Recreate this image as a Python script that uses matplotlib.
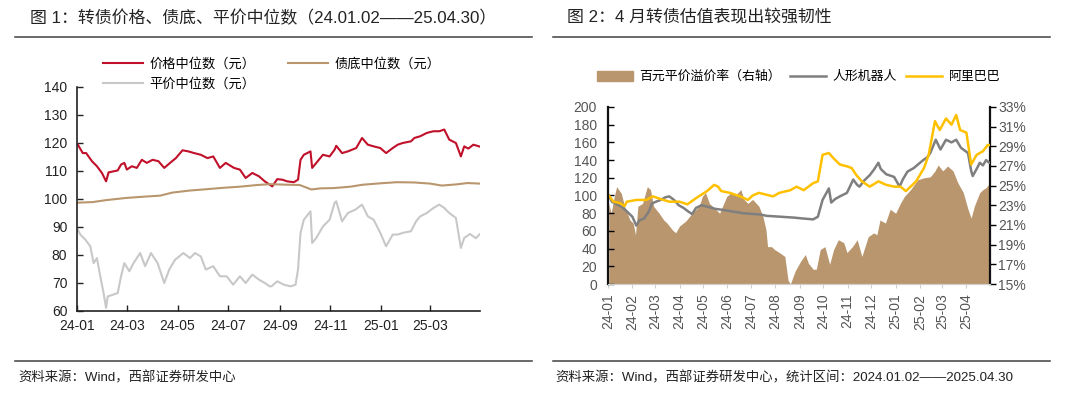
import matplotlib
matplotlib.use("Agg")
import matplotlib.pyplot as plt
import matplotlib.dates as mdates
from matplotlib.lines import Line2D
from matplotlib.patches import Patch
from matplotlib.ticker import PercentFormatter, MultipleLocator
import pandas as pd

plt.rcParams["font.family"] = ["Liberation Sans", "Noto Sans CJK SC"]

# ---- 图1: 转债价格 / 债底 / 平价中位数 ----
price_dates = ["2024-01-02", "2024-01-08", "2024-01-12", "2024-01-19", "2024-01-25", "2024-01-31",
               "2024-02-05", "2024-02-08", "2024-02-19", "2024-02-23", "2024-02-27", "2024-03-01",
               "2024-03-07", "2024-03-13", "2024-03-19", "2024-03-25", "2024-04-01", "2024-04-08",
               "2024-04-15", "2024-04-22", "2024-04-29", "2024-05-07", "2024-05-14", "2024-05-21",
               "2024-05-29", "2024-06-06", "2024-06-13", "2024-06-21", "2024-06-28", "2024-07-08",
               "2024-07-15", "2024-07-22", "2024-07-30", "2024-08-07", "2024-08-14", "2024-08-20",
               "2024-08-23", "2024-08-29", "2024-09-04", "2024-09-10", "2024-09-18", "2024-09-23",
               "2024-09-26", "2024-09-30", "2024-10-08", "2024-10-10", "2024-10-15", "2024-10-23",
               "2024-10-31", "2024-11-06", "2024-11-08", "2024-11-15", "2024-11-22", "2024-12-02",
               "2024-12-09", "2024-12-16", "2024-12-23", "2024-12-31", "2025-01-07", "2025-01-15",
               "2025-01-21", "2025-01-27", "2025-02-06", "2025-02-10", "2025-02-17", "2025-02-25",
               "2025-03-05", "2025-03-12", "2025-03-18", "2025-03-24", "2025-04-01", "2025-04-07",
               "2025-04-11", "2025-04-16", "2025-04-22", "2025-04-30"]
price_med = [119.4, 116.4, 116.4, 113.5, 111.7, 109.3, 106.3, 109.5, 110.2, 112.3, 112.9, 110.5,
             111.7, 111.1, 114.0, 112.9, 114.0, 113.5, 111.1, 112.9, 114.6, 117.4, 117.0, 116.4,
             115.8, 114.6, 115.2, 111.1, 112.9, 111.1, 110.5, 107.5, 109.3, 108.1, 106.3, 105.1,
             104.5, 107.1, 106.9, 106.3, 106.0, 106.9, 114.0, 115.8, 117.0, 111.1, 112.9, 115.8,
             115.2, 117.6, 119.0, 116.4, 117.0, 118.2, 121.8, 119.4, 118.8, 118.2, 116.4, 118.2,
             119.4, 120.0, 120.6, 121.8, 122.4, 123.6, 124.2, 124.2, 124.8, 121.2, 120.0, 115.2,
             118.8, 118.0, 119.4, 118.7]

floor_dates = ["2024-01-02", "2024-01-20", "2024-02-05", "2024-03-01", "2024-03-20", "2024-04-10",
               "2024-04-25", "2024-05-15", "2024-06-05", "2024-06-25", "2024-07-15", "2024-08-05",
               "2024-08-20", "2024-09-10", "2024-09-25", "2024-10-09", "2024-10-20", "2024-11-05",
               "2024-11-25", "2024-12-10", "2024-12-31", "2025-01-20", "2025-02-10", "2025-03-01",
               "2025-03-15", "2025-04-01", "2025-04-15", "2025-04-30"]
floor_med = [98.7, 98.9, 99.6, 100.4, 100.8, 101.2, 102.3, 103.0, 103.5, 104.0, 104.4, 105.0,
             105.3, 105.1, 105.0, 103.4, 103.8, 103.9, 104.4, 105.1, 105.6, 106.0, 105.9, 105.5,
             104.8, 105.2, 105.7, 105.5]

parity_dates = ["2024-01-02", "2024-01-05", "2024-01-11", "2024-01-17", "2024-01-21", "2024-01-25",
                "2024-01-29", "2024-02-02", "2024-02-05", "2024-02-07", "2024-02-19", "2024-02-23",
                "2024-02-27", "2024-03-04", "2024-03-09", "2024-03-17", "2024-03-23", "2024-03-30",
                "2024-04-07", "2024-04-15", "2024-04-21", "2024-04-28", "2024-05-08", "2024-05-16",
                "2024-05-22", "2024-05-29", "2024-06-04", "2024-06-13", "2024-06-21", "2024-06-29",
                "2024-07-07", "2024-07-15", "2024-07-22", "2024-07-30", "2024-08-07", "2024-08-14",
                "2024-08-20", "2024-08-22", "2024-08-29", "2024-09-06", "2024-09-14", "2024-09-20",
                "2024-09-23", "2024-09-26", "2024-09-30", "2024-10-08", "2024-10-10", "2024-10-15",
                "2024-10-23", "2024-10-31", "2024-11-06", "2024-11-08", "2024-11-15", "2024-11-22",
                "2024-12-01", "2024-12-09", "2024-12-16", "2024-12-23", "2024-12-31", "2025-01-07",
                "2025-01-15", "2025-01-21", "2025-01-27", "2025-02-06", "2025-02-12", "2025-02-17",
                "2025-02-25", "2025-03-05", "2025-03-12", "2025-03-18", "2025-03-24", "2025-04-01",
                "2025-04-07", "2025-04-11", "2025-04-18", "2025-04-25", "2025-04-30"]
parity_med = [89.0, 87.3, 85.5, 83.1, 77.1, 78.9, 72.4, 66.4, 61.1, 65.2, 66.4, 72.4,
              77.1, 74.2, 77.1, 80.7, 76.0, 80.7, 77.1, 70.0, 74.8, 78.3, 80.7, 78.9,
              80.7, 79.5, 74.8, 76.0, 72.4, 72.4, 69.4, 72.4, 70.0, 73.0, 71.2, 70.0,
              68.8, 68.8, 70.6, 69.4, 68.8, 69.4, 74.8, 87.9, 92.6, 95.6, 84.3, 86.1,
              90.2, 92.6, 98.6, 99.2, 92.0, 95.0, 96.2, 98.0, 93.8, 92.6, 87.9, 83.1,
              87.3, 87.3, 87.9, 88.5, 92.0, 93.8, 95.0, 96.8, 98.0, 96.8, 95.0, 93.2,
              82.5, 86.1, 87.5, 86.0, 87.5]

# ---- 图2: 溢价率 / 人形机器人 / 阿里巴巴 ----
prem_dates = ["2024-01-02", "2024-01-05", "2024-01-09", "2024-01-12", "2024-01-18", "2024-01-22",
              "2024-01-29", "2024-02-02", "2024-02-05", "2024-02-08", "2024-02-14", "2024-02-20",
              "2024-02-24", "2024-02-28", "2024-03-06", "2024-03-12", "2024-03-16", "2024-03-23",
              "2024-03-27", "2024-04-01", "2024-04-09", "2024-04-17", "2024-04-26", "2024-04-30",
              "2024-05-04", "2024-05-09", "2024-05-13", "2024-05-22", "2024-05-31", "2024-06-06",
              "2024-06-12", "2024-06-18", "2024-06-22", "2024-06-27", "2024-07-03", "2024-07-11",
              "2024-07-16", "2024-07-20", "2024-07-22", "2024-07-27", "2024-07-31", "2024-08-06",
              "2024-08-13", "2024-08-17", "2024-08-20", "2024-08-26", "2024-09-02", "2024-09-08",
              "2024-09-12", "2024-09-18", "2024-09-22", "2024-09-27", "2024-10-03", "2024-10-09",
              "2024-10-14", "2024-10-20", "2024-10-27", "2024-10-31", "2024-11-07", "2024-11-13",
              "2024-11-19", "2024-11-27", "2024-12-04", "2024-12-08", "2024-12-12", "2024-12-19",
              "2024-12-25", "2025-01-01", "2025-01-07", "2025-01-12", "2025-01-20", "2025-01-29",
              "2025-02-06", "2025-02-14", "2025-02-20", "2025-02-24", "2025-03-02", "2025-03-08",
              "2025-03-15", "2025-03-21", "2025-03-28", "2025-04-03", "2025-04-07", "2025-04-11",
              "2025-04-18", "2025-04-22", "2025-04-26", "2025-04-30"]
prem_rate = [23.2, 22.2, 23.9, 24.9, 24.2, 22.9, 21.5, 21.2, 20.0, 22.9, 23.2, 24.9,
             24.6, 22.9, 22.2, 21.5, 21.2, 20.5, 20.2, 20.9, 21.4, 22.2, 22.9, 23.9,
             24.3, 23.2, 22.9, 22.2, 23.9, 24.3, 24.1, 24.6, 23.6, 23.2, 23.6, 22.9,
             21.9, 20.5, 18.8, 18.8, 18.5, 18.2, 17.8, 15.4, 15.0, 16.3, 17.3, 18.0,
             17.1, 16.5, 16.5, 18.5, 18.8, 17.0, 18.5, 19.5, 19.2, 18.2, 18.8, 19.5,
             17.8, 19.8, 20.2, 20.0, 21.5, 21.2, 22.6, 22.2, 23.2, 23.9, 24.6, 25.6,
             25.8, 25.9, 26.5, 27.1, 26.5, 27.0, 26.5, 25.3, 24.3, 22.6, 21.7, 22.9,
             24.3, 24.6, 24.8, 25.2]

robot_dates = ["2024-01-02", "2024-01-06", "2024-01-12", "2024-01-19", "2024-01-25", "2024-02-01",
               "2024-02-06", "2024-02-10", "2024-02-16", "2024-02-22", "2024-02-26", "2024-03-02",
               "2024-03-08", "2024-03-14", "2024-03-19", "2024-03-25", "2024-03-31", "2024-04-06",
               "2024-04-12", "2024-04-17", "2024-04-22", "2024-04-29", "2024-05-08", "2024-05-16",
               "2024-05-24", "2024-05-31", "2024-06-07", "2024-06-14", "2024-06-21", "2024-06-28",
               "2024-07-05", "2024-07-13", "2024-07-21", "2024-07-30", "2024-08-08", "2024-08-16",
               "2024-08-25", "2024-09-05", "2024-09-12", "2024-09-18", "2024-09-24", "2024-09-30",
               "2024-10-08", "2024-10-11", "2024-10-16", "2024-10-22", "2024-10-31", "2024-11-08",
               "2024-11-13", "2024-11-16", "2024-11-22", "2024-11-29", "2024-12-05", "2024-12-10",
               "2024-12-13", "2024-12-20", "2024-12-30", "2025-01-06", "2025-01-10", "2025-01-16",
               "2025-01-24", "2025-02-05", "2025-02-10", "2025-02-14", "2025-02-21", "2025-02-27",
               "2025-03-06", "2025-03-13", "2025-03-19", "2025-03-25", "2025-04-03", "2025-04-07",
               "2025-04-09", "2025-04-14", "2025-04-18", "2025-04-22", "2025-04-26", "2025-04-30"]
robot_idx = [100, 93, 90, 87, 82, 76, 66, 72, 74, 82, 91, 93,
             95, 98, 99, 95, 89, 86, 82, 79, 86, 89, 87, 85,
             84, 83, 82, 81, 80, 79.5, 79, 78.5, 77, 76.5, 76, 75.5,
             75, 74, 73.5, 73, 76, 95, 108, 92, 96, 99, 103, 118,
             112, 110, 117, 123, 130, 137, 130, 124, 121, 110, 118, 127,
             131, 140, 143, 148, 163, 152, 163, 160, 163, 154, 148, 128,
             122, 130, 137, 134, 140, 137]

baba_dates = ["2024-01-02", "2024-01-08", "2024-01-16", "2024-01-22", "2024-01-25", "2024-02-06",
              "2024-02-19", "2024-02-27", "2024-03-08", "2024-03-19", "2024-04-01", "2024-04-11",
              "2024-04-22", "2024-05-06", "2024-05-15", "2024-05-20", "2024-05-24", "2024-06-04",
              "2024-06-17", "2024-06-27", "2024-07-03", "2024-07-11", "2024-07-29", "2024-08-06",
              "2024-08-20", "2024-08-28", "2024-09-06", "2024-09-18", "2024-09-24", "2024-09-30",
              "2024-10-08", "2024-10-14", "2024-10-22", "2024-10-31", "2024-11-06", "2024-11-12",
              "2024-11-19", "2024-11-29", "2024-12-10", "2024-12-20", "2024-12-30", "2025-01-07",
              "2025-01-14", "2025-01-20", "2025-01-27", "2025-02-06", "2025-02-12", "2025-02-20",
              "2025-02-26", "2025-03-06", "2025-03-13", "2025-03-19", "2025-03-24", "2025-04-01",
              "2025-04-07", "2025-04-14", "2025-04-22", "2025-04-28", "2025-04-30"]
baba_idx = [100, 93, 91.5, 88, 93, 95, 95, 99, 96, 93, 93, 90,
            97, 105, 112, 110, 105, 103, 99, 95, 100, 103, 99, 103,
            106, 110, 106, 114, 116, 146, 148, 142, 135, 133, 131, 123,
            116, 110, 116, 112, 110, 110, 105, 110, 116, 131, 146, 184,
            174, 187, 180, 191, 174, 171, 135, 146, 150, 157, 157]

prem_ticks = [15, 17, 19, 21, 23, 25, 27, 29, 31, 33]

RED = "#C0102A"
TAN = "#B9966D"
LGRAY = "#C8C8C8"
DGRAY = "#7F7F7F"
YELLOW = "#FFC000"

fig = plt.figure(figsize=(10.8, 3.96), dpi=100)
W, H = 1080, 396


def fx(px):
    return px / W


def fy(py):
    return 1 - py / H


# headers, rules, sources
fig.text(fx(30), fy(18), "图 1：转债价格、债底、平价中位数（24.01.02——25.04.30）",
         fontsize=12.2, va="center", color="#222222")
fig.text(fx(567), fy(18), "图 2：4 月转债估值表现出较强韧性",
         fontsize=12.2, va="center", color="#222222")
for x0, x1 in [(15, 532), (553, 1050)]:
    for yy in (37, 361):
        fig.add_artist(Line2D([fx(x0), fx(x1)], [fy(yy), fy(yy)], color="#404040",
                              lw=1.1, transform=fig.transFigure))
fig.text(fx(18), fy(378), "资料来源：Wind，西部证券研发中心", fontsize=9.6, va="center",
         color="#222222")
fig.text(fx(555), fy(378), "资料来源：Wind，西部证券研发中心，统计区间：2024.01.02——2025.04.30",
         fontsize=9.6, va="center", color="#222222")

# ---- left chart ----
ax1 = fig.add_axes([fx(77), fy(311), fx(480 - 77), (311 - 87) / H])
l1, = ax1.plot(pd.to_datetime(price_dates), price_med, color=RED, lw=1.5)
l2, = ax1.plot(pd.to_datetime(floor_dates), floor_med, color=TAN, lw=1.5)
l3, = ax1.plot(pd.to_datetime(parity_dates), parity_med, color=LGRAY, lw=1.5)
ax1.set_ylim(60, 140)
ax1.yaxis.set_major_locator(MultipleLocator(10))
ax1.set_xlim(pd.Timestamp("2024-01-01"), pd.Timestamp("2025-04-30"))
ax1.xaxis.set_major_locator(mdates.MonthLocator(bymonth=[1, 3, 5, 7, 9, 11]))
ax1.xaxis.set_major_formatter(mdates.DateFormatter("%y-%m"))
for s in ("top", "right"):
    ax1.spines[s].set_visible(False)
for s in ("left", "bottom"):
    ax1.spines[s].set_color("#222222")
    ax1.spines[s].set_linewidth(1.2)
ax1.tick_params(axis="both", direction="in", length=4, width=1, labelsize=10,
                colors="#222222")
ax1.tick_params(axis="y", pad=7)
ax1.tick_params(axis="x", pad=6)

fig.legend([l1, l3, l2], ["价格中位数（元）", "平价中位数（元）", "债底中位数（元）"],
           loc="upper left", bbox_to_anchor=(fx(103), fy(58)), ncol=2, frameon=False,
           fontsize=9.5, handlelength=3.0, handletextpad=0.5, columnspacing=2.5,
           labelspacing=0.5, borderpad=0, borderaxespad=0)

# ---- right chart ----
ax2 = fig.add_axes([fx(608), fy(284), fx(990 - 608), (284 - 107) / H])
ax3 = ax2.twinx()
ax2.set_zorder(ax3.get_zorder() + 1)
ax2.patch.set_visible(False)

ax3.fill_between(pd.to_datetime(prem_dates), 15, prem_rate, color=TAN, lw=0)
ax3.set_ylim(15, 33)
ax3.set_yticks(prem_ticks)
ax3.yaxis.set_major_formatter(PercentFormatter(decimals=0))

l4, = ax2.plot(pd.to_datetime(robot_dates), robot_idx, color=DGRAY, lw=1.8)
l5, = ax2.plot(pd.to_datetime(baba_dates), baba_idx, color=YELLOW, lw=1.8)
ax2.set_ylim(0, 200)
ax2.yaxis.set_major_locator(MultipleLocator(20))
ax2.set_xlim(pd.Timestamp("2024-01-01"), pd.Timestamp("2025-05-01"))
ax2.set_xticks(pd.date_range("2024-01-01", "2025-04-01", freq="MS"))
ax2.xaxis.set_major_formatter(mdates.DateFormatter("%y-%m"))

for a in (ax2, ax3):
    a.spines["top"].set_visible(False)
    a.spines["bottom"].set_color("#D0D0D0")
ax2.spines["right"].set_visible(False)
ax3.spines["left"].set_visible(False)
ax2.spines["left"].set_color("#111111")
ax2.spines["left"].set_linewidth(1.6)
ax3.spines["right"].set_color("#111111")
ax3.spines["right"].set_linewidth(1.6)
ax2.tick_params(axis="y", direction="in", length=4, width=1, labelsize=10,
                labelcolor="#555555", pad=8)
ax3.tick_params(axis="y", direction="out", length=4, width=1, labelsize=10,
                labelcolor="#555555", pad=2)
ax2.tick_params(axis="x", direction="out", length=3, width=0.8, color="#D0D0D0",
                labelsize=10, labelcolor="#555555", labelrotation=90, pad=4)

fig.legend([Patch(color=TAN), l4, l5], ["百元平价溢价率（右轴）", "人形机器人", "阿里巴巴"],
           loc="center left", bbox_to_anchor=(fx(597), fy(77)), ncol=3, frameon=False,
           fontsize=9.3, handlelength=2.8, handleheight=0.8, handletextpad=0.5,
           columnspacing=0.7, borderpad=0, borderaxespad=0)

fig.savefig("out.png", dpi=100)
